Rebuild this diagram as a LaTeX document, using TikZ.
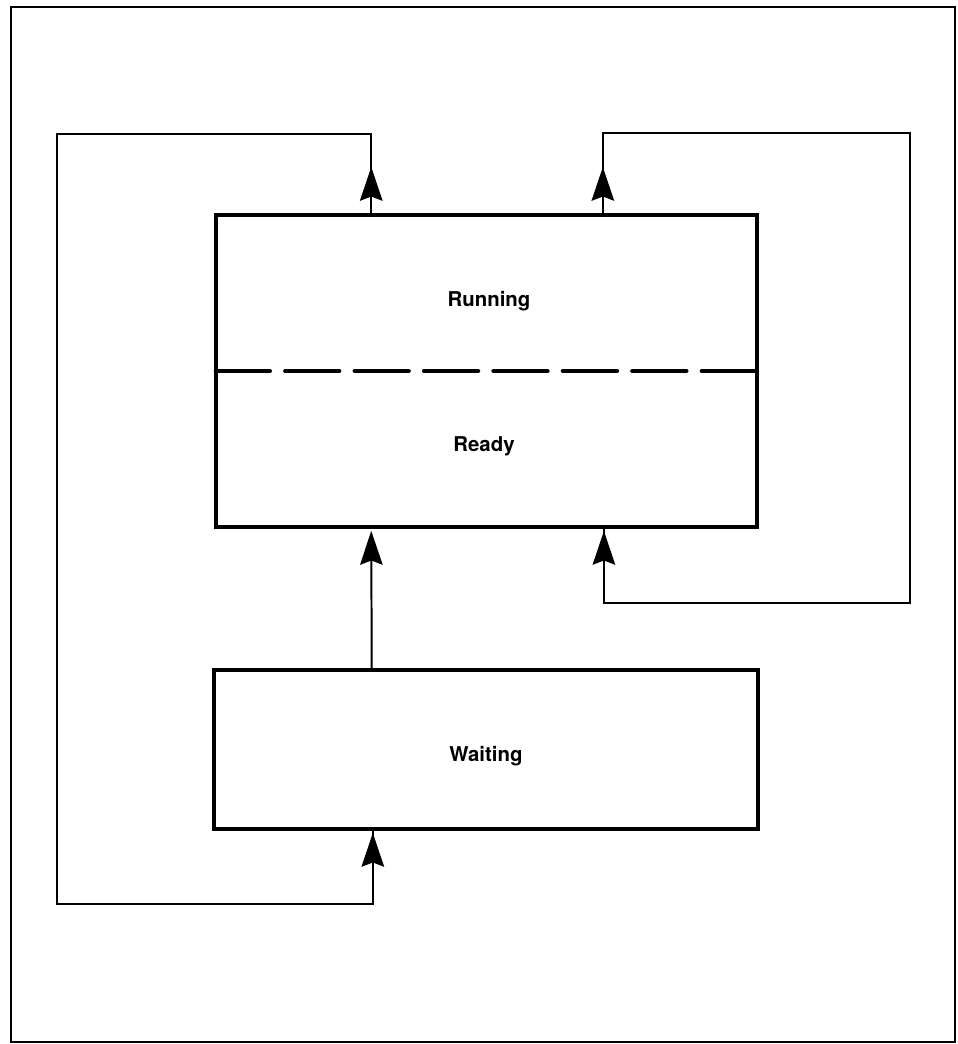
\documentclass[tikz,border=0pt]{standalone}
\usepackage{fontspec}
\newfontfamily\labelfont{TeX Gyre Heros}
\usetikzlibrary{arrows.meta,calc}

\tikzset{
  framebox/.style={line width=1.4pt},
  statebox/.style={rectangle, inner sep=0pt, outer sep=0pt},
  stateline/.style={line width=3.2pt, line join=miter},
  divider/.style={line width=3.2pt, line cap=round, dash pattern=on 38.3pt off 11.06pt},
  link/.style={line width=1.4pt, line join=miter},
  uparrow/.style={link, -{Stealth[length=24pt, width=16pt, inset=3pt]}},
  statetext/.style={font=\labelfont\bfseries\fontsize{14.5}{17}\selectfont, anchor=base, inner sep=0pt}
}

\begin{document}
\begin{tikzpicture}[x=0.025cm, y=-0.025cm]
  \useasboundingbox (0,0) rectangle (958,1044);

  % outer frame
  \draw[framebox] (11,7) rectangle (955,1042);

  % states
  \node[statebox, minimum width=13.525cm, minimum height=3.9cm] (running) at (486.5,293) {};
  \node[statebox, minimum width=13.525cm, minimum height=3.9cm] (ready) at (486.5,449) {};
  \node[statebox, minimum width=13.6cm, minimum height=3.975cm] (waiting) at (486,749.5) {};

  \draw[stateline] (running.north west) rectangle (ready.south east);
  \draw[divider] (ready.north west) -- (ready.north east);
  \draw[stateline] (waiting.north west) rectangle (waiting.south east);

  \node[statetext] (runninglabel) at (489,306) {Running};
  \node[statetext] (readylabel) at (484,451) {Ready};
  \node[statetext] (waitinglabel) at (486,761) {Waiting};

  % ports on the boxes
  \coordinate (exitleft) at ($(running.north west)!.287!(running.north east)$);
  \coordinate (exitright) at ($(running.north west)!.715!(running.north east)$);
  \coordinate (readyinleft) at ($(ready.south west)!.287!(ready.south east)$);
  \coordinate (readyinright) at ($(ready.south west)!.717!(ready.south east)$);
  \coordinate (waitout) at ($(waiting.north west)!.29!(waiting.north east)$);
  \coordinate (waitin) at ($(waiting.south west)!.292!(waiting.south east)$);

  % loop corners
  \coordinate (lefttop) at (57,134);
  \coordinate (leftbot) at (57,904);
  \coordinate (righttop) at (910,133);
  \coordinate (rightbot) at (910,603);

  % running -> waiting
  \draw[link] (exitleft) |- (lefttop) -- (leftbot) -| (waitin);
  \draw[uparrow] (exitleft) -- ++(0,-48);
  \draw[uparrow] (leftbot -| waitin) -- ([yshift=-2.8pt]waitin);

  % running -> ready
  \draw[link] (exitright) |- (righttop) -- (rightbot) -| (readyinright);
  \draw[uparrow] (exitright) -- ++(0,-48);
  \draw[uparrow] (rightbot -| readyinright) -- ([yshift=-2.8pt]readyinright);

  % waiting -> ready
  \draw[uparrow] (waitout) -- ([yshift=-2.8pt]readyinleft);
\end{tikzpicture}
\end{document}
